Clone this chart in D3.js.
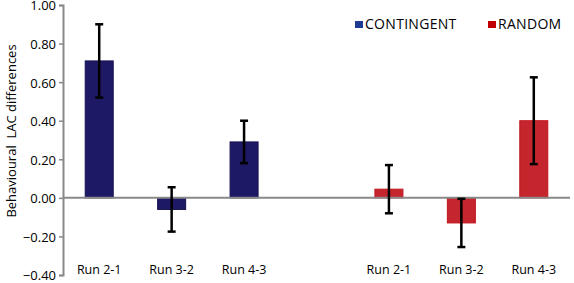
<!DOCTYPE html>
<html>
<head>
<meta charset="utf-8">
<script src="https://cdn.jsdelivr.net/npm/d3@7"></script>
<style>
  body { margin: 0; background: #fff; }
  svg { display: block; font-family: "Open Sans", sans-serif; }
</style>
</head>
<body>
<svg id="chart" width="574" height="283"></svg>
<script>
const slots = ["c1", "c2", "c3", "gap", "r1", "r2", "r3"];
const runLabels = ["Run 2-1", "Run 3-2", "Run 4-3"];
const contingentValues = [0.71, -0.06, 0.29];
const contingentErrors = [0.19, 0.115, 0.11];
const randomValues = [0.045, -0.13, 0.40];
const randomErrors = [0.125, 0.125, 0.225];
const yTicks = [-0.4, -0.2, 0, 0.2, 0.4, 0.6, 0.8, 1.0];
const seriesNames = ["CONTINGENT", "RANDOM"];

const svg = d3.select("#chart");
const margin = { top: 5, right: 4, bottom: 8, left: 63 };
const width = 574, height = 283;

const x = d3.scaleBand()
  .domain(slots)
  .range([margin.left, width - margin.right])
  .padding(0);

const y = d3.scaleLinear()
  .domain([-0.4, 1.0])
  .range([height - margin.bottom, margin.top]);

const bars = [
  ...runLabels.map((l, i) => ({ slot: slots[i], label: l, value: contingentValues[i], err: contingentErrors[i], fill: "#1e1964", stroke: "#141050" })),
  ...runLabels.map((l, i) => ({ slot: slots[i + 4], label: l, value: randomValues[i], err: randomErrors[i], fill: "#c5262e", stroke: "#c0141c" }))
];

const barW = 28;

// y axis
const yAxis = svg.append("g")
  .attr("transform", `translate(${margin.left},0)`)
  .call(d3.axisLeft(y).tickValues(yTicks).tickFormat(d3.format(".2f")).tickSize(4).tickPadding(3));
yAxis.select(".domain").attr("stroke", "#898989").attr("stroke-width", 2);
yAxis.selectAll(".tick line").attr("stroke", "#898989").attr("stroke-width", 1.5);
yAxis.selectAll(".tick text").attr("font-size", 13).attr("fill", "#000")
  .attr("font-family", "'Open Sans', sans-serif")
  .attr("dy", "0.38em");

// bars
svg.append("g").selectAll("rect")
  .data(bars)
  .join("rect")
  .attr("x", d => x(d.slot) + x.bandwidth() / 2 - barW / 2)
  .attr("width", barW)
  .attr("y", d => y(Math.max(0, d.value)))
  .attr("height", d => Math.abs(y(d.value) - y(0)))
  .attr("fill", d => d.fill)
  .attr("stroke", d => d.stroke)
  .attr("stroke-width", 1);

// zero line
svg.append("line")
  .attr("x1", margin.left).attr("x2", width - margin.right)
  .attr("y1", y(0)).attr("y2", y(0))
  .attr("stroke", "#898989").attr("stroke-width", 2);

// error bars
const eg = svg.append("g").attr("stroke", "#000").attr("stroke-width", 2.5);
bars.forEach(d => {
  const cx = x(d.slot) + x.bandwidth() / 2;
  const top = y(d.value + d.err), bot = y(d.value - d.err);
  eg.append("line").attr("x1", cx).attr("x2", cx).attr("y1", top).attr("y2", bot);
  eg.append("line").attr("x1", cx - 4).attr("x2", cx + 4).attr("y1", top).attr("y2", top);
  eg.append("line").attr("x1", cx - 4).attr("x2", cx + 4).attr("y1", bot).attr("y2", bot);
});

// category labels
svg.append("g").selectAll("text")
  .data(bars)
  .join("text")
  .attr("x", d => x(d.slot) + x.bandwidth() / 2)
  .attr("y", 274)
  .attr("text-anchor", "middle")
  .attr("font-size", 12.5)
  .text(d => d.label);

// y axis title
svg.append("text")
  .attr("transform", `translate(16,131) rotate(-90)`)
  .attr("text-anchor", "middle")
  .attr("font-size", 13)
  .style("white-space", "pre")
  .text("Behavioural  LAC differences");

// legend
const legend = [
  { name: seriesNames[0], color: "#1f3a93", x: 355 },
  { name: seriesNames[1], color: "#c00000", x: 488 }
];
const lg = svg.append("g");
legend.forEach(l => {
  lg.append("rect").attr("x", l.x).attr("y", 21).attr("width", 8).attr("height", 7).attr("fill", l.color);
  lg.append("text").attr("x", l.x + 10).attr("y", 29).attr("font-size", 14)
    .attr("letter-spacing", 0.3).text(l.name);
});
</script>
</body>
</html>
